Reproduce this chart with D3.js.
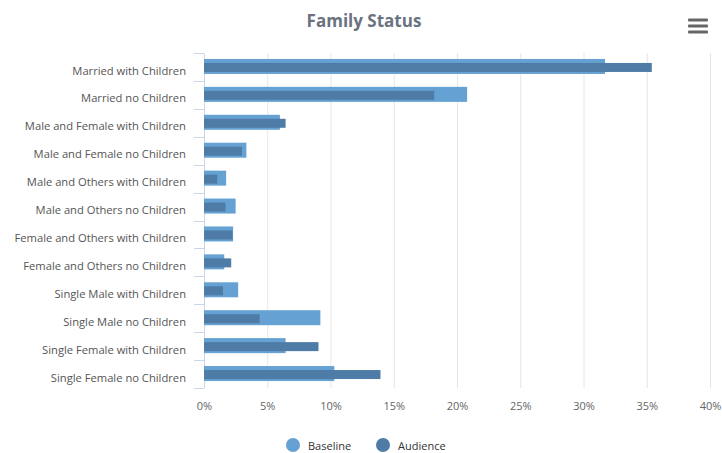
<!DOCTYPE html>
<html><head><meta charset="utf-8">
<script src="https://cdn.jsdelivr.net/npm/d3@7"></script>
<style>body{margin:0;background:#fff;font-family:"Open Sans",sans-serif;}</style>
</head><body>
<svg id="c" width="722" height="453"></svg>
<script>
const categories = ["Married with Children","Married no Children","Male and Female with Children","Male and Female no Children","Male and Others with Children","Male and Others no Children","Female and Others with Children","Female and Others no Children","Single Male with Children","Single Male no Children","Single Female with Children","Single Female no Children"];
const baseline = [31.7,20.8,6.0,3.35,1.75,2.5,2.3,1.6,2.7,9.2,6.45,10.3];
const audience = [35.4,18.2,6.45,3.0,1.05,1.7,2.25,2.15,1.5,4.4,9.05,13.95];
const xTicks = [0,5,10,15,20,25,30,35,40];
const seriesNames = ["Baseline","Audience"];
const colors = ["#65a1d2","#4e7ca6"];

(function(){
const svg = d3.select("#c");
const pL = 204, pR = 710, pT = 53, pB = 388;
const x = d3.scaleLinear().domain([0,40]).range([pL,pR]);
const y = d3.scaleBand().domain(categories).range([pT,pB]);

// title
svg.append("text").attr("x",364).attr("y",27).attr("text-anchor","middle")
  .attr("font-size",17).attr("font-weight","bold").attr("fill","#6b7280").text("Family Status");

// hamburger
[20,26,32].forEach(yy=>svg.append("rect").attr("x",688).attr("y",yy-1.5).attr("width",20).attr("height",3).attr("rx",1).attr("fill","#666"));

// gridlines
svg.append("g").selectAll("line").data(xTicks).join("line")
  .attr("x1",d=>x(d)+0.5).attr("x2",d=>x(d)+0.5).attr("y1",pT).attr("y2",pB)
  .attr("stroke",d=>d===0?"none":"#e6e6e6").attr("stroke-width",1);

// x axis labels
const xa = svg.append("g").attr("transform",`translate(0,${pB})`)
  .call(d3.axisBottom(x).tickValues(xTicks).tickFormat(d=>d+"%").tickSize(0).tickPadding(14));
xa.select(".domain").remove();
xa.selectAll("text").attr("font-family","Open Sans").attr("font-size",11).attr("fill","#666");

// y axis
const ya = svg.append("g").attr("transform",`translate(${pL},0)`)
  .call(d3.axisLeft(y).tickSize(0).tickPadding(18));
ya.select(".domain").attr("stroke","#ccd6eb");
ya.selectAll("text").attr("font-family","Open Sans").attr("font-size",11.2).attr("fill","#555")
  .attr("transform","translate(0,4)");
// tick marks at band boundaries
const bounds = categories.map(c=>y(c)).concat([pB]);
svg.append("g").selectAll("line").data(bounds).join("line")
  .attr("x1",pL-10).attr("x2",pL).attr("y1",d=>Math.round(d)+0.5).attr("y2",d=>Math.round(d)+0.5)
  .attr("stroke","#ccd6eb");

// bars
const bw = y.bandwidth();
svg.append("g").selectAll("rect").data(baseline).join("rect")
  .attr("x",x(0)).attr("y",(d,i)=>y(categories[i])+bw/2-8)
  .attr("width",d=>x(d)-x(0)).attr("height",15).attr("fill",colors[0]);
svg.append("g").selectAll("rect").data(audience).join("rect")
  .attr("x",x(0)).attr("y",(d,i)=>y(categories[i])+bw/2-4)
  .attr("width",d=>x(d)-x(0)).attr("height",9).attr("fill",colors[1]);

// legend
const lg = svg.append("g");
const lx = [293,383];
seriesNames.forEach((n,i)=>{
  lg.append("circle").attr("cx",lx[i]).attr("cy",445).attr("r",7).attr("fill",colors[i]);
  lg.append("text").attr("x",lx[i]+15).attr("y",449.5).attr("font-size",11).attr("fill","#333").text(n);
});
})();
</script>
</body></html>
